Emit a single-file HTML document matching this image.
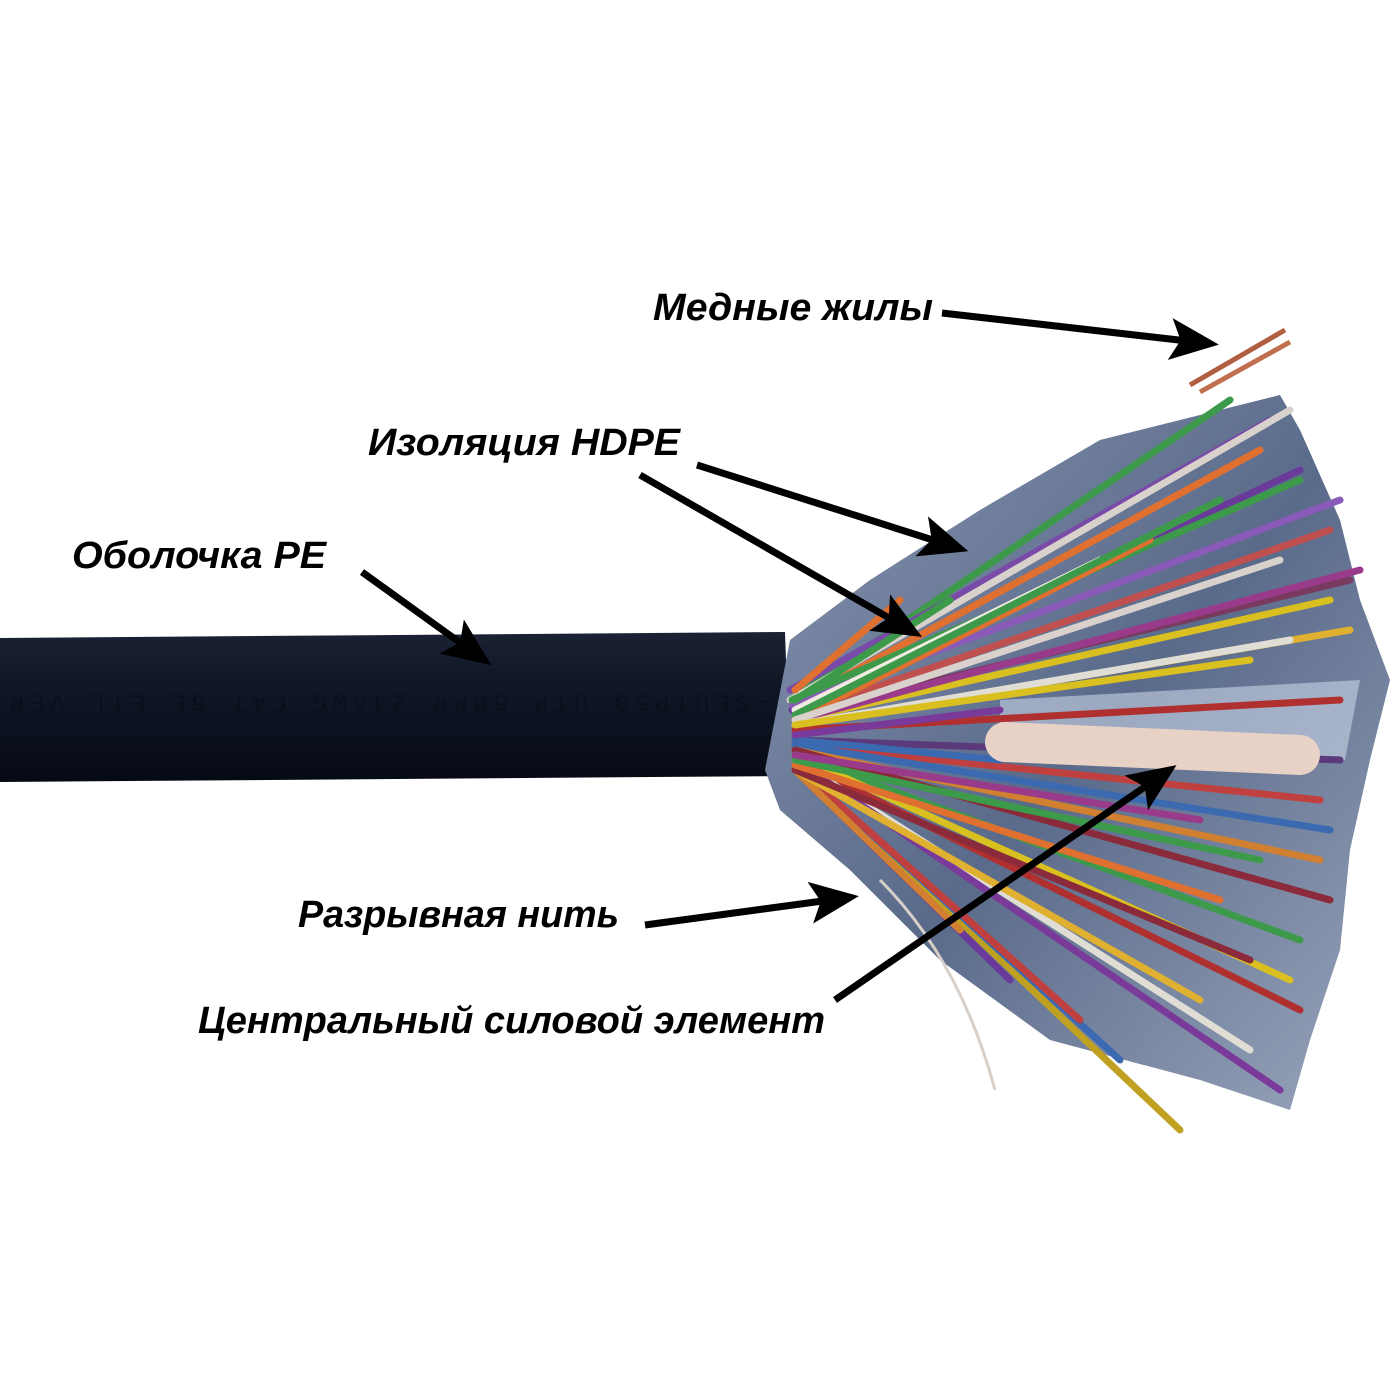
<!DOCTYPE html>
<html><head><meta charset="utf-8"><style>
html,body{margin:0;padding:0;background:#fff;}
svg{display:block}
.l{font-family:"Liberation Sans",sans-serif;font-weight:bold;font-style:italic;font-size:38px;fill:#000}
</style></head><body>
<svg width="1400" height="1400" viewBox="0 0 1400 1400" xmlns="http://www.w3.org/2000/svg">
<defs>
<marker id="ah" markerWidth="7" markerHeight="6" refX="5" refY="3" orient="auto" markerUnits="strokeWidth">
<path d="M0,0 L7,3 L0,6 L1.5,3 Z" fill="#000"/></marker>
<linearGradient id="cab" x1="0" y1="0" x2="0" y2="1">
<stop offset="0" stop-color="#1a2234"/><stop offset="0.3" stop-color="#101828"/><stop offset="1" stop-color="#060a14"/></linearGradient>
<linearGradient id="foil" x1="0" y1="0" x2="1" y2="1">
<stop offset="0" stop-color="#8896b0"/><stop offset="0.5" stop-color="#5a6a8a"/><stop offset="1" stop-color="#9aa6bc"/></linearGradient>
</defs>
<rect width="1400" height="1400" fill="#fff"/>
<path d="M0,638 L785,632 L790,776 L0,782 Z" fill="url(#cab)"/>
<text x="0" y="0" transform="translate(790,695) rotate(180)" font-family="Liberation Mono,monospace" font-size="24" fill="#0a0f1a" opacity="0.8" textLength="780">T-SEUTP50 UTP 50PR 24AWG CAT 5E ETL VER</text>
<path d="M765,770 L790,640 L870,580 L980,510 L1100,440 L1280,395 L1300,430 L1340,520 L1360,600 L1390,680 L1370,760 L1350,850 L1340,950 L1310,1040 L1290,1110 L1200,1080 L1050,1040 L940,960 L850,870 L780,810 Z" fill="url(#foil)"/>
<path d="M1000,700 L1360,680 L1345,760 L1000,760 Z" fill="#c8d4e6" opacity="0.6"/>
<g stroke-width="7" stroke-linecap="round" fill="none">
<line x1="790" y1="700" x2="1230" y2="400" stroke="#3c9a4a"/>
<line x1="790" y1="690" x2="1270" y2="420" stroke="#7a4aa8"/>
<line x1="790" y1="700" x2="1290" y2="410" stroke="#d9d2cc"/>
<line x1="792" y1="705" x2="1260" y2="450" stroke="#e07030"/>
<line x1="792" y1="710" x2="1300" y2="470" stroke="#6a3a9a"/>
<line x1="792" y1="705" x2="1340" y2="500" stroke="#8a5ab8"/>
<line x1="792" y1="700" x2="1300" y2="480" stroke="#3c9a4a"/>
<line x1="795" y1="715" x2="1330" y2="530" stroke="#c05050"/>
<line x1="795" y1="715" x2="1350" y2="580" stroke="#7a3a60"/>
<line x1="795" y1="720" x2="1330" y2="600" stroke="#d9c020"/>
<line x1="795" y1="720" x2="1360" y2="570" stroke="#9a3a8a"/>
<line x1="795" y1="725" x2="1350" y2="630" stroke="#e0b030"/>
<line x1="795" y1="725" x2="1290" y2="640" stroke="#e0ddd5"/>
<line x1="795" y1="720" x2="1150" y2="540" stroke="#e07030"/>
<line x1="795" y1="710" x2="1100" y2="560" stroke="#f0eae0"/>
<line x1="795" y1="730" x2="1340" y2="700" stroke="#b03030"/>
<line x1="795" y1="740" x2="1340" y2="760" stroke="#5a3a7a"/>
<line x1="795" y1="745" x2="1320" y2="800" stroke="#c04040"/>
<line x1="795" y1="745" x2="1330" y2="830" stroke="#3c6ab0"/>
<line x1="795" y1="750" x2="1320" y2="860" stroke="#d08030"/>
<line x1="795" y1="750" x2="1330" y2="900" stroke="#8a2a3a"/>
<line x1="795" y1="755" x2="1300" y2="940" stroke="#3c9a4a"/>
<line x1="795" y1="755" x2="1290" y2="980" stroke="#d9c020"/>
<line x1="795" y1="760" x2="1300" y2="1010" stroke="#b03030"/>
<line x1="795" y1="760" x2="1250" y2="1050" stroke="#e0ddd5"/>
<line x1="795" y1="760" x2="1280" y2="1090" stroke="#7a3a9a"/>
<line x1="795" y1="765" x2="1180" y2="1130" stroke="#c0a020"/>
<line x1="795" y1="765" x2="1120" y2="1060" stroke="#3c6ab0"/>
<line x1="795" y1="765" x2="1080" y2="1020" stroke="#c04040"/>
<line x1="795" y1="770" x2="1010" y2="980" stroke="#6a3a9a"/>
<line x1="795" y1="770" x2="960" y2="930" stroke="#d08030"/>
<line x1="795" y1="770" x2="1200" y2="1000" stroke="#e0b030"/>
<line x1="795" y1="770" x2="1250" y2="960" stroke="#8a2a3a"/>
<line x1="795" y1="765" x2="1220" y2="900" stroke="#e07030"/>
<line x1="795" y1="760" x2="1260" y2="860" stroke="#3c9a4a"/>
<line x1="795" y1="755" x2="1200" y2="820" stroke="#9a3a8a"/>
<line x1="795" y1="740" x2="1000" y2="760" stroke="#3c6ab0"/>
<line x1="795" y1="700" x2="950" y2="600" stroke="#3c9a4a"/>
<line x1="795" y1="690" x2="900" y2="600" stroke="#e07030"/>
<line x1="795" y1="715" x2="1220" y2="500" stroke="#3c9a4a"/>
<line x1="795" y1="720" x2="1280" y2="560" stroke="#d9d2cc"/>
<line x1="795" y1="725" x2="1250" y2="660" stroke="#d9c020"/>
<line x1="795" y1="735" x2="1000" y2="710" stroke="#7a3a9a"/>
</g>
<line x1="1190" y1="385" x2="1285" y2="330" stroke="#b06040" stroke-width="5"/>
<line x1="1200" y1="392" x2="1290" y2="342" stroke="#c07050" stroke-width="5"/>
<line x1="1005" y1="742" x2="1300" y2="755" stroke="#e8d2c6" stroke-width="40" stroke-linecap="round"/>
<path d="M880,880 Q960,960 995,1090" stroke="#d8d0c8" stroke-width="3" fill="none"/>
<g stroke="#000" stroke-width="7" fill="none" marker-end="url(#ah)">
<line x1="942" y1="313" x2="1205" y2="343"/>
<line x1="697" y1="465" x2="955" y2="547"/>
<line x1="640" y1="475" x2="910" y2="630"/>
<line x1="362" y1="572" x2="480" y2="657"/>
<line x1="645" y1="925" x2="845" y2="898"/>
<line x1="835" y1="1000" x2="1165" y2="773"/>
</g>
<text class="l" x="653" y="320" textLength="280" lengthAdjust="spacingAndGlyphs">Медные жилы</text>
<text class="l" x="368" y="455" textLength="312" lengthAdjust="spacingAndGlyphs">Изоляция HDPE</text>
<text class="l" x="72" y="568" textLength="254" lengthAdjust="spacingAndGlyphs">Оболочка PE</text>
<text class="l" x="298" y="927" textLength="321" lengthAdjust="spacingAndGlyphs">Разрывная нить</text>
<text class="l" x="198" y="1033" textLength="627" lengthAdjust="spacingAndGlyphs">Центральный силовой элемент</text>
</svg>
</body></html>
